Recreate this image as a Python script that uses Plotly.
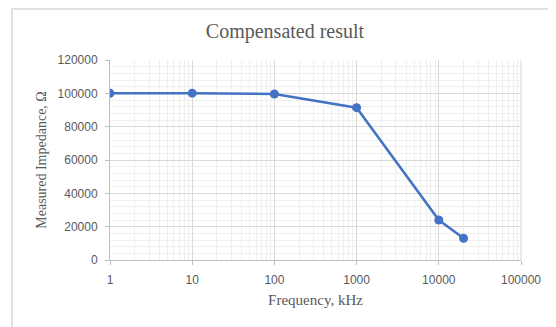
import plotly.graph_objects as go

freq_khz = [1, 10, 100, 1000, 10000, 20000]
impedance = [100000, 100100, 99600, 91400, 24000, 13000]
x_ticks = [1, 10, 100, 1000, 10000, 100000]
y_ticks = [0, 20000, 40000, 60000, 80000, 100000, 120000]

fig = go.Figure()
fig.add_trace(go.Scatter(
    x=freq_khz, y=impedance, mode="lines+markers",
    line=dict(color="#4472C4", width=2.5),
    marker=dict(color="#4472C4", size=9),
    showlegend=False,
))

grey = "#595959"
W, H = 548, 319
L, T = 102, 52
PW, PH = 411, 200
fig.update_layout(
    width=W, height=H,
    margin=dict(l=L, r=W - L - PW, t=T, b=H - T - PH, autoexpand=False),
    paper_bgcolor="white", plot_bgcolor="white",
    title=dict(text="Compensated result", x=(285 - 8) / W, xanchor="center", y=1 - 23 / H, yanchor="middle",
               font=dict(family="Liberation Serif", size=20, color=grey)),
    xaxis=dict(
        type="log", range=[0, 5], automargin=False,
        tickvals=x_ticks, ticktext=[str(v) for v in x_ticks],
        showgrid=True, gridcolor="#d9d9d9", gridwidth=1,
        minor=dict(dtick="D1", showgrid=True, gridcolor="#efefef", gridwidth=1, ticks=""),
        showline=True, linecolor="#bfbfbf", linewidth=1,
        ticks="outside", ticklen=4, tickcolor="#bfbfbf", ticklabelstandoff=5,
        tickfont=dict(family="Liberation Sans", size=12, color=grey),
        title=dict(text="Frequency, kHz", standoff=8,
                   font=dict(family="Liberation Serif", size=15, color=grey)),
        zeroline=False,
    ),
    yaxis=dict(
        range=[0, 120000], automargin=False,
        tickvals=y_ticks, ticktext=[str(v) for v in y_ticks],
        showgrid=True, gridcolor="#d9d9d9", gridwidth=1,
        minor=dict(dtick=4000, showgrid=True, gridcolor="#efefef", gridwidth=1, ticks=""),
        showline=True, linecolor="#bfbfbf", linewidth=1,
        ticks="outside", ticklen=4, tickcolor="#bfbfbf", ticklabelstandoff=5,
        tickfont=dict(family="Liberation Sans", size=12, color=grey),
        title=dict(text="Measured Impedance, Ω", standoff=7,
                   font=dict(family="Liberation Serif", size=14, color=grey)),
        zeroline=False,
    ),
)
# right edge gridline of plot area
fig.add_shape(type="line", xref="paper", yref="paper", x0=1, x1=1, y0=0, y1=1,
              line=dict(color="#d9d9d9", width=1))
# chart border (cropped on right and bottom)
fig.add_shape(type="rect", xref="paper", yref="paper",
              x0=-98 / PW, x1=1.3, y0=-0.5, y1=1 + (T - 1) / PH,
              line=dict(color="#d9d9d9", width=1.5), fillcolor="rgba(0,0,0,0)", layer="below")

fig.write_html("out.html")
